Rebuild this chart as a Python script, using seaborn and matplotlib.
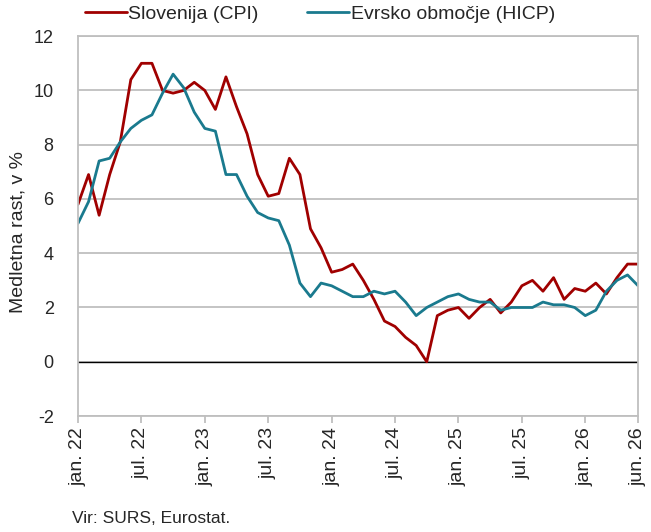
import numpy as np
import pandas as pd
import matplotlib
matplotlib.use("Agg")
import matplotlib.pyplot as plt
import seaborn as sns

# mesečni podatki, jan. 2022 - jun. 2026
meseci = pd.date_range("2022-01-01", "2026-06-01", freq="MS")

slovenija = [5.8, 6.9, 5.4, 6.9, 8.1, 10.4, 11.0, 11.0, 10.0, 9.9, 10.0, 10.3,
             10.0, 9.3, 10.5, 9.4, 8.4, 6.9, 6.1, 6.2, 7.5, 6.9, 4.9, 4.2,
             3.3, 3.4, 3.6, 3.0, 2.3, 1.5, 1.3, 0.9, 0.6, 0.0, 1.7, 1.9,
             2.0, 1.6, 2.0, 2.3, 1.8, 2.2, 2.8, 3.0, 2.6, 3.1, 2.3, 2.7,
             2.6, 2.9, 2.5, 3.1, 3.6, 3.6]
evroobmocje = [5.1, 5.9, 7.4, 7.5, 8.1, 8.6, 8.9, 9.1, 9.9, 10.6, 10.1, 9.2,
               8.6, 8.5, 6.9, 6.9, 6.1, 5.5, 5.3, 5.2, 4.3, 2.9, 2.4, 2.9,
               2.8, 2.6, 2.4, 2.4, 2.6, 2.5, 2.6, 2.2, 1.7, 2.0, 2.2, 2.4,
               2.5, 2.3, 2.2, 2.2, 1.9, 2.0, 2.0, 2.0, 2.2, 2.1, 2.1, 2.0,
               1.7, 1.9, 2.6, 3.0, 3.2, 2.8]

oznake_x = ["jan. 22", "jul. 22", "jan. 23", "jul. 23", "jan. 24", "jul. 24",
            "jan. 25", "jul. 25", "jan. 26", "jun. 26"]
pozicije_x = [0, 6, 12, 18, 24, 30, 36, 42, 48, 53]

df = pd.DataFrame({
    "i": np.arange(len(meseci)),
    "Slovenija (CPI)": slovenija,
    "Evrsko območje (HICP)": evroobmocje,
})
df_long = df.melt(id_vars="i", var_name="serija", value_name="rast")

sns.set_style("white")
plt.rcParams["font.family"] = ["Liberation Sans", "DejaVu Sans"]
plt.rcParams["axes.unicode_minus"] = False

fig = plt.figure(figsize=(6.51, 5.32), dpi=100)
ax = fig.add_axes([0.1198, 0.218, 0.8604, 0.714])

sns.lineplot(data=df_long, x="i", y="rast", hue="serija",
             palette={"Slovenija (CPI)": "#A00000", "Evrsko območje (HICP)": "#1A7A8E"},
             linewidth=2.0, ax=ax)

ax.axhline(0, color="black", linewidth=1.0, zorder=1)
ax.set_ylim(-2, 12)
ax.set_yticks(range(-2, 13, 2))
ax.set_xlim(0, 53)
ax.set_xticks(pozicije_x)
ax.set_xticklabels(oznake_x, rotation=90)
ax.grid(axis="y", color="#BFBFBF", linewidth=1.3)
ax.set_axisbelow(True)
for s in ax.spines.values():
    s.set_color("#BFBFBF")
    s.set_linewidth(1.3)
ax.tick_params(axis="x", bottom=True, length=5, color="#BFBFBF", width=1.3,
               labelsize=14, pad=3)
ax.tick_params(axis="y", left=False, labelsize=13, pad=14)
ax.set_xlabel("")
ax.set_ylabel("Medletna rast, v %", fontsize=14)
ax.yaxis.set_label_coords(-0.092, 0.485)

ax.legend(loc="center left", bbox_to_anchor=(85 / 651, 1 - 14 / 532),
          bbox_transform=fig.transFigure, ncol=2, frameon=False,
          fontsize=14, handlelength=2.15, handletextpad=0.08, columnspacing=2.5,
          borderpad=0, borderaxespad=0)

fig.text(0.11, 0.017, "Vir: SURS, Eurostat.", fontsize=12.5)

fig.savefig("out.png", dpi=100)
